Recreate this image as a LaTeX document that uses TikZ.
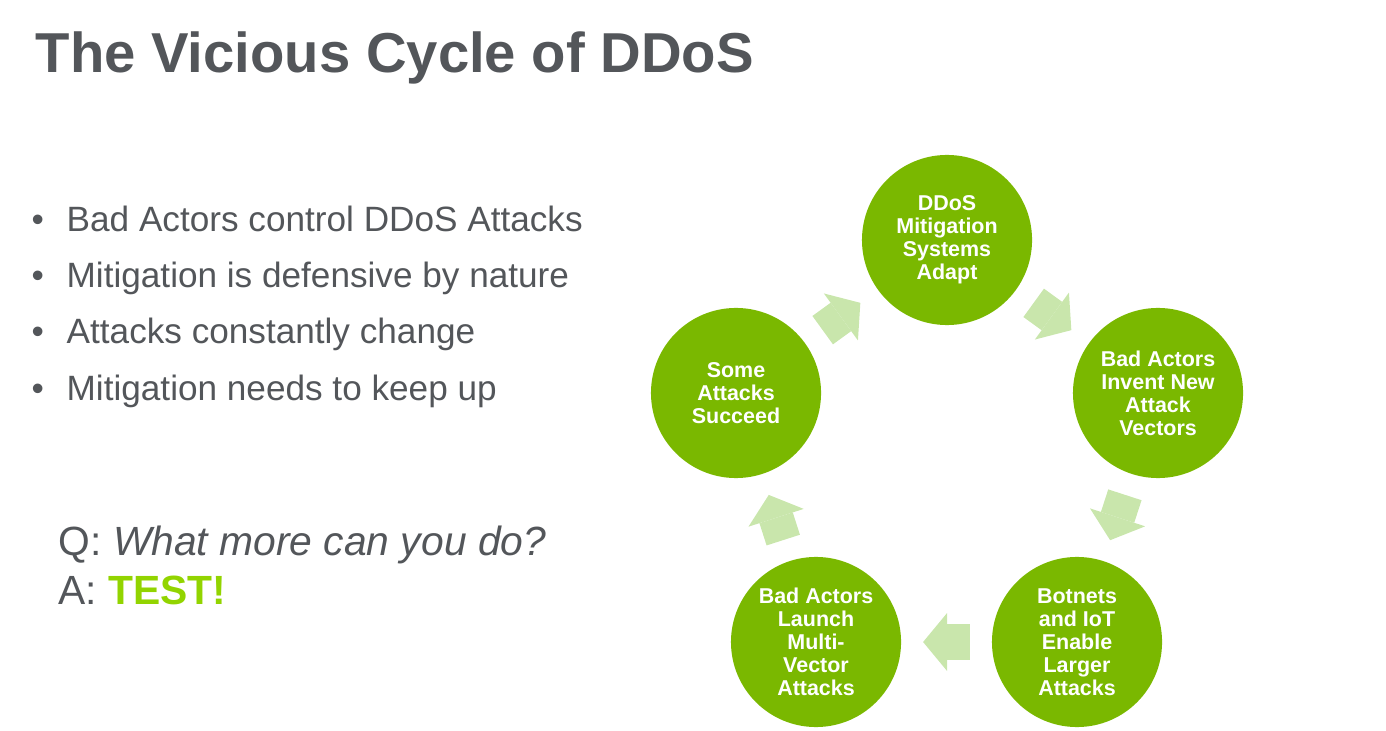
\documentclass[tikz,border=0pt]{standalone}
\usepackage{fontspec}
\setmainfont{Liberation Sans}
\usepackage{xcolor}
\usetikzlibrary{arrows.meta,positioning}
\definecolor{slidegray}{HTML}{53565A}
\definecolor{cyclegreen}{HTML}{7AB800}
\definecolor{arrowgreen}{HTML}{C9E6AC}
\definecolor{testgreen}{HTML}{92D400}

\begin{document}
\begin{tikzpicture}[
    x=0.01cm, y=-0.01cm,
    stage/.style={circle, fill=cyclegreen, minimum size=1.7cm, inner sep=0, outer sep=0,
        align=center, text=white, font=\fontsize{6.1}{6.55}\selectfont\bfseries},
    cyclearrow/.style={draw=arrowgreen, line width=0.35cm, shorten <=0.22cm, shorten >=0.22cm,
        -{Triangle[length=0.24cm, width=0.58cm, line width=0pt]}},
    bullet/.style={anchor=base west, inner sep=0, text=slidegray, font=\fontsize{10}{12}\selectfont},
    qa/.style={anchor=base west, inner sep=0, text=slidegray, font=\fontsize{11.6}{14}\selectfont}]
\useasboundingbox (0,0) rectangle (1386,731);

\node (title) [anchor=base west, inner sep=0, text=slidegray, font=\fontsize{16}{19}\selectfont\bfseries]
    at (35,73) {The Vicious Cycle of DDoS};

% bullet list
\foreach \txt [count=\i] in {Bad Actors control DDoS Attacks, Mitigation is defensive by nature,
        Attacks constantly change, Mitigation needs to keep up} {
    \node (dot\i) [bullet] at (31,232+56*\i-56) {\textbullet};
    \node (item\i) [bullet] at (66,232+56*\i-56) {\txt};
}

\node (question) [qa] at (58,555) {Q: \textit{What more can you do?}};
\node (answer) [qa] at (58,604) {A: \textcolor{testgreen}{\bfseries TEST!}};

% the cycle
\node (adapt)   [stage] at (947,240)  {DDoS\\Mitigation\\Systems\\Adapt};
\node (invent)  [stage] at (1158,393) {Bad Actors\\Invent New\\Attack\\Vectors};
\node (botnets) [stage] at (1077,642) {Botnets\\and IoT\\Enable\\Larger\\Attacks};
\node (launch)  [stage] at (816,642)  {Bad Actors\\Launch\\Multi-\\Vector\\Attacks};
\node (succeed) [stage] at (736,393)  {Some\\Attacks\\Succeed};

\draw[cyclearrow] (adapt) -- (invent);
\draw[cyclearrow] (invent) -- (botnets);
\draw[cyclearrow] (botnets) -- (launch);
\draw[cyclearrow] (launch) -- (succeed);
\draw[cyclearrow] (succeed) -- (adapt);

\end{tikzpicture}
\end{document}
